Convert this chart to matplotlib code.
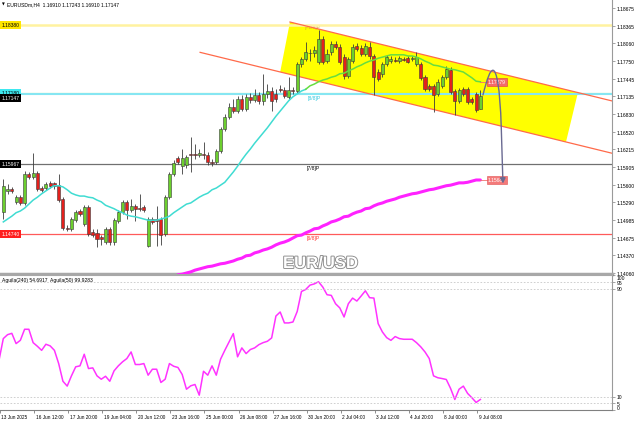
import numpy as np
import matplotlib
matplotlib.use("Agg")
import matplotlib.pyplot as plt
import matplotlib.transforms as mtransforms
import matplotlib.patheffects as pe
from matplotlib.path import Path
from matplotlib.patches import FancyArrowPatch, Polygon

plt.rcParams['font.family'] = ['Liberation Sans', 'DejaVu Sans']

# EURUSDm H4, velas (13 Jun - 9 Jul 2025)
open_ = [1.1512, 1.1549, 1.1552, 1.1530, 1.1538, 1.1528, 1.1578, 1.1573, 1.1580, 1.1554,
         1.1554, 1.1563, 1.1563, 1.1559, 1.1535, 1.1484, 1.1483, 1.1498, 1.1514, 1.1491,
         1.1521, 1.1477, 1.1476, 1.1469, 1.1460, 1.1483, 1.1460, 1.1497, 1.1512, 1.1530,
         1.1516, 1.1523, 1.1519, 1.1521, 1.1453, 1.1500, 1.1500, 1.1500, 1.1474, 1.1538,
         1.1578, 1.1606, 1.1592, 1.1594, 1.1613, 1.1613, 1.1611, 1.1613, 1.1611, 1.1599,
         1.1599, 1.1618, 1.1657, 1.1678, 1.1695, 1.1688, 1.1709, 1.1692, 1.1713, 1.1707,
         1.1716, 1.1706, 1.1718, 1.1723, 1.1718, 1.1726, 1.1725, 1.1713, 1.1725, 1.1723,
         1.1770, 1.1779, 1.1789, 1.1789, 1.1773, 1.1814, 1.1775, 1.1791, 1.1805, 1.1800,
         1.1782, 1.1749, 1.1775, 1.1801, 1.1798, 1.1787, 1.1800, 1.1784, 1.1756, 1.1753,
         1.1770, 1.1775, 1.1777, 1.1775, 1.1779, 1.1780, 1.1779, 1.1770, 1.1770, 1.1747,
         1.1732, 1.1732, 1.1718, 1.1732, 1.1747, 1.1760, 1.1723, 1.1706, 1.1726, 1.1726,
         1.1709, 1.1718, 1.16910]
high = [1.1570, 1.1561, 1.1556, 1.1542, 1.1542, 1.1584, 1.1582, 1.1615, 1.1584, 1.1558,
        1.1564, 1.1566, 1.1564, 1.1578, 1.1538, 1.1490, 1.1504, 1.1516, 1.1518, 1.1524,
        1.1524, 1.1483, 1.1483, 1.1472, 1.1486, 1.1486, 1.1502, 1.1516, 1.1533, 1.1533,
        1.1535, 1.1526, 1.1544, 1.1524, 1.1504, 1.1504, 1.1523, 1.1504, 1.1542, 1.1582,
        1.1603, 1.1610, 1.1622, 1.1611, 1.1643, 1.1631, 1.1622, 1.1634, 1.1617, 1.1605,
        1.1622, 1.1660, 1.1683, 1.1702, 1.1709, 1.1714, 1.1716, 1.1718, 1.1720, 1.1726,
        1.1721, 1.1753, 1.1735, 1.1730, 1.1726, 1.1733, 1.1730, 1.1747, 1.1730, 1.1773,
        1.1782, 1.1808, 1.1796, 1.1801, 1.1829, 1.1819, 1.1796, 1.1810, 1.1810, 1.1805,
        1.1787, 1.1782, 1.1805, 1.1807, 1.1803, 1.1807, 1.1808, 1.1787, 1.1761, 1.1773,
        1.1786, 1.1784, 1.1782, 1.1784, 1.1782, 1.1784, 1.1784, 1.1791, 1.1773, 1.1751,
        1.1735, 1.1735, 1.1744, 1.1751, 1.1767, 1.1765, 1.1726, 1.1728, 1.1730, 1.1730,
        1.1713, 1.1721, 1.17243]
low = [1.1500, 1.1544, 1.1545, 1.1526, 1.1524, 1.1524, 1.1570, 1.1570, 1.1549, 1.1547,
       1.1551, 1.1554, 1.1552, 1.1530, 1.1481, 1.1479, 1.1479, 1.1495, 1.1505, 1.1488,
       1.1471, 1.1469, 1.1451, 1.1455, 1.1457, 1.1455, 1.1455, 1.1493, 1.1509, 1.1500,
       1.1512, 1.1497, 1.1514, 1.1512, 1.1451, 1.1491, 1.1453, 1.1455, 1.1471, 1.1535,
       1.1575, 1.1596, 1.1578, 1.1589, 1.1582, 1.1605, 1.1608, 1.1605, 1.1594, 1.1592,
       1.1596, 1.1615, 1.1653, 1.1674, 1.1685, 1.1685, 1.1688, 1.1688, 1.1702, 1.1704,
       1.1700, 1.1699, 1.1711, 1.1688, 1.1704, 1.1721, 1.1711, 1.1709, 1.1718, 1.1720,
       1.1765, 1.1775, 1.1775, 1.1782, 1.1770, 1.1770, 1.1772, 1.1786, 1.1796, 1.1770,
       1.1744, 1.1746, 1.1772, 1.1793, 1.1784, 1.1784, 1.1779, 1.1716, 1.1740, 1.1747,
       1.1767, 1.1772, 1.1773, 1.1772, 1.1775, 1.1772, 1.1775, 1.1767, 1.1742, 1.1723,
       1.1723, 1.1686, 1.1714, 1.1728, 1.1744, 1.1718, 1.1681, 1.1702, 1.1714, 1.1700,
       1.1700, 1.1686, 1.16910]
close = [1.1558, 1.1552, 1.1549, 1.1538, 1.1528, 1.1578, 1.1573, 1.1580, 1.1552, 1.1551,
         1.1561, 1.1558, 1.1558, 1.1533, 1.1484, 1.1483, 1.1500, 1.1512, 1.1509, 1.1521,
         1.1474, 1.1472, 1.1465, 1.1465, 1.1483, 1.1460, 1.1498, 1.1512, 1.1530, 1.1516,
         1.1523, 1.1518, 1.1518, 1.1516, 1.1500, 1.1495, 1.1497, 1.1472, 1.1538, 1.1578,
         1.1598, 1.1599, 1.1606, 1.1608, 1.1611, 1.1611, 1.1615, 1.1611, 1.1599, 1.1598,
         1.1618, 1.1657, 1.1678, 1.1695, 1.1688, 1.1709, 1.1692, 1.1713, 1.1707, 1.1716,
         1.1706, 1.1718, 1.1723, 1.1706, 1.1709, 1.1725, 1.1714, 1.1725, 1.1723, 1.1770,
         1.1779, 1.1791, 1.1790, 1.1794, 1.1814, 1.1773, 1.1787, 1.1805, 1.1800, 1.1773,
         1.1749, 1.1779, 1.1800, 1.1796, 1.1787, 1.1801, 1.1784, 1.1747, 1.1744, 1.1770,
         1.1782, 1.1779, 1.1775, 1.1780, 1.1777, 1.1773, 1.1780, 1.1782, 1.1746, 1.1726,
         1.1726, 1.1716, 1.1739, 1.1747, 1.1761, 1.1721, 1.1706, 1.1725, 1.1718, 1.1704,
         1.1704, 1.1690, 1.17147]

# media movil rapida (turquesa -> verde)
ma_fast = [1.1495, 1.1500, 1.1505, 1.1511, 1.1514, 1.1519, 1.1526, 1.1533, 1.1538, 1.1544,
           1.1549, 1.1554, 1.1558, 1.1558, 1.1556, 1.1551, 1.1545, 1.1542, 1.1540, 1.1540,
           1.1538, 1.1537, 1.1533, 1.1530, 1.1524, 1.1521, 1.1518, 1.1514, 1.1511, 1.1507,
           1.1505, 1.1504, 1.1502, 1.1500, 1.1498, 1.1498, 1.1498, 1.1500, 1.1502, 1.1505,
           1.1511, 1.1516, 1.1521, 1.1526, 1.1528, 1.1533, 1.1538, 1.1542, 1.1545, 1.1551,
           1.1554, 1.1559, 1.1564, 1.1573, 1.1582, 1.1592, 1.1603, 1.1613, 1.1622, 1.1632,
           1.1641, 1.1650, 1.1659, 1.1669, 1.1679, 1.1688, 1.1697, 1.1706, 1.1713, 1.1718,
           1.1723, 1.1726, 1.1732, 1.1735, 1.1739, 1.1742, 1.1744, 1.1747, 1.1749, 1.1753,
           1.1754, 1.1758, 1.1761, 1.1765, 1.1768, 1.1772, 1.1775, 1.1777, 1.1780, 1.1782,
           1.1784, 1.1786, 1.1786, 1.1786, 1.1786, 1.1784, 1.1784, 1.1782, 1.1779, 1.1775,
           1.1772, 1.1768, 1.1767, 1.1765, 1.1763, 1.1761, 1.1760, 1.1758, 1.1756, 1.1751,
           1.1746, 1.1740, 1.1739]
ma_fast_split = 71

# media movil lenta (magenta), empieza en la vela 41
ma_slow_start = 41
ma_slow = [1.1403, 1.1404, 1.1406, 1.1408, 1.1411, 1.1413, 1.1415, 1.1417, 1.1418, 1.1420,
           1.1422, 1.1423, 1.1425, 1.1427, 1.1430, 1.1432, 1.1436, 1.1437, 1.1441, 1.1443,
           1.1446, 1.1448, 1.1451, 1.1455, 1.1458, 1.1460, 1.1463, 1.1467, 1.1471, 1.1472,
           1.1476, 1.1479, 1.1483, 1.1484, 1.1488, 1.1491, 1.1495, 1.1497, 1.1500, 1.1504,
           1.1505, 1.1509, 1.1512, 1.1514, 1.1518, 1.1519, 1.1523, 1.1526, 1.1528, 1.1531,
           1.1533, 1.1535, 1.1538, 1.1540, 1.1542, 1.1544, 1.1545, 1.1547, 1.1549, 1.1551,
           1.1552, 1.1554, 1.1556, 1.1558, 1.1559, 1.1561, 1.1563, 1.1563, 1.1564, 1.1566,
           1.1568, 1.1568]

# oscilador Aguila (desde la vela -1)
aguila = [37.0, 52.9, 55.8, 56.8, 49.2, 51.6, 59.8, 59.8, 49.9, 47.2, 44.2,
          48.7, 47.5, 44.2, 34.4, 21.3, 17.7, 25.3, 32.0, 32.7, 41.3,
          30.7, 31.2, 25.3, 22.8, 25.0, 21.3, 29.0, 32.7, 35.7, 38.1,
          43.0, 33.7, 33.7, 34.4, 25.8, 30.2, 30.2, 20.4, 22.8, 34.4,
          32.4, 31.5, 26.3, 15.4, 17.9, 18.9, 11.0, 28.7, 25.8, 32.7,
          25.8, 37.6, 44.2, 50.4, 56.6, 39.4, 46.0, 41.8, 44.8, 46.0,
          48.4, 49.9, 50.9, 53.4, 69.6, 72.6, 64.5, 64.5, 65.2, 73.0,
          87.8, 89.3, 92.5, 93.4, 95.0, 91.1, 85.4, 84.9, 78.7, 75.6,
          68.9, 78.7, 82.9, 80.7, 84.4, 88.3, 83.2, 82.9, 64.0, 57.8,
          53.6, 51.6, 54.4, 52.9, 52.4, 52.4, 52.4, 49.9, 46.8, 43.0,
          38.1, 25.3, 23.9, 23.3, 22.6, 16.0, 7.8, 15.4, 17.7, 12.3,
          9.1, 5.6, 7.8]
osc_levels = [95, 90, 10, 5]
osc_ticks = [100, 95, 90, 10, 5, 0]

time_labels = ['13 Jun 2025', '16 Jun 12:00', '17 Jun 20:00', '19 Jun 04:00', '20 Jun 12:00',
               '23 Jun 16:00', '25 Jun 00:00', '26 Jun 08:00', '27 Jun 16:00', '30 Jun 20:00',
               '2 Jul 04:00', '3 Jul 12:00', '4 Jul 20:00', '8 Jul 00:00', '9 Jul 08:00']
price_ticks = [1.18675, 1.18365, 1.18060, 1.17750, 1.17445, 1.17135, 1.16830, 1.16520,
               1.16215, 1.15905, 1.15600, 1.15290, 1.14985, 1.14675, 1.14370, 1.14060]

# niveles Murrey
lvl_plus18 = 1.18380
lvl_88 = 1.17180
lvl_78 = 1.15967
lvl_68 = 1.14740
bid = 1.17147

# canal bajista (vela, precio)
chan_upper = [(67.3, 1.18431), (142.9, 1.17057)]
chan_lower = [(46.2, 1.17903), (142.9, 1.16146)]
chan_fill = [(67.3, 1.18431), (134.9, 1.17203), (132.1, 1.16342), (65.0, 1.17561)]

W, H = 640, 427
fig = plt.figure(figsize=(6.4, 4.27), dpi=100)
ax = fig.add_axes([0, 1 - 275 / H, 612 / W, 275 / H])
ax2 = fig.add_axes([0, 1 - 411 / H, 612 / W, 135 / H])
xlim = (-0.775, 142.9)
fs = 3.6

# ---- panel principal ----
ax.add_patch(Polygon(chan_fill, closed=True, fc='#ffff00', ec='none', zorder=1))
ax.plot(*zip(*chan_upper), color='#ff6a4a', lw=0.9, zorder=2)
ax.plot(*zip(*chan_lower), color='#ff6a4a', lw=0.9, zorder=2)

ax.axhline(lvl_plus18, color='#fff2a0', lw=1.8, zorder=1.5)
ax.axhline(lvl_88 + 0.00015, color='#8ee05a', lw=0.8, zorder=1.5)
ax.axhline(lvl_88 - 0.0001, color='#86e6f2', lw=1.5, zorder=1.5)
ax.axhline(lvl_78, color='#707070', lw=0.9, zorder=1.5)
ax.axhline(lvl_68, color='#ff5a5a', lw=0.9, zorder=1.5)

ax.text(70.8, lvl_plus18 - 0.0003, '[+1/8]P', fontsize=fs, color='#d8b030', va='center', zorder=1.2)
ax.text(71.5, lvl_88 - 0.0006, '[8/8]P', fontsize=fs, color='#30c8e0', va='center', zorder=2)
ax.text(71.3, lvl_78 - 0.0007, '[7/8]P', fontsize=fs, color='black', va='center', zorder=2)
ax.text(71.3, lvl_68 - 0.0007, '[6/8]P', fontsize=fs, color='#ff3030', va='center', zorder=2)

o = np.array(open_)
h = np.array(high)
l = np.array(low)
c = np.array(close)
x = np.arange(len(c))
up = c >= o
ax.vlines(x, l, h, color='#3c3c3c', lw=0.6, zorder=3)
bottom = np.minimum(o, c)
height = np.maximum(np.abs(c - o), 0.00005)
ax.bar(x[up], height[up], bottom=bottom[up], width=0.72, color='#6ccf2e',
       edgecolor='#3a3a3a', linewidth=0.4, zorder=4)
ax.bar(x[~up], height[~up], bottom=bottom[~up], width=0.72, color='#e4201c',
       edgecolor='#3a3a3a', linewidth=0.4, zorder=4)

ma_fast = np.array(ma_fast)
ax.plot(x[:ma_fast_split + 1], ma_fast[:ma_fast_split + 1], color='#40dcd2', lw=1.1, zorder=5)
ax.plot(x[ma_fast_split:], ma_fast[ma_fast_split:], color='#66dd40', lw=1.1, zorder=5)
xs = np.arange(ma_slow_start, ma_slow_start + len(ma_slow))
ax.plot(xs, ma_slow, color='#ff22ff', lw=2.2, zorder=5, solid_capstyle='round')

# etiquetas de las medias
ax.plot([x[-1], 113.8], [ma_fast[-1], ma_fast[-1]], color='#f07070', lw=0.6, zorder=5)
ax.text(113.8, ma_fast[-1], '1.17379', fontsize=fs, color='white', va='center', zorder=6,
        bbox=dict(boxstyle='square,pad=0.25', fc='#f46a6a', ec='#e03a3a', lw=0.4))
ax.plot([xs[-1], 113.8], [ma_slow[-1], ma_slow[-1]], color='#f07070', lw=0.6, zorder=5)
ax.text(113.8, ma_slow[-1], '1.15687', fontsize=fs, color='white', va='center', zorder=6,
        bbox=dict(boxstyle='square,pad=0.25', fc='#f47a7a', ec='#e05050', lw=0.4))

# proyeccion
verts = [(112.6, 1.1716), (113.6, 1.1745), (114.3, 1.1760), (115.0, 1.1759),
         (115.8, 1.1758), (116.6, 1.1730), (116.9, 1.1660), (117.3, 1.1562)]
codes = [Path.MOVETO, Path.CURVE4, Path.CURVE4, Path.CURVE4,
         Path.CURVE4, Path.CURVE4, Path.CURVE4, Path.LINETO]
arrow = FancyArrowPatch(path=Path(verts, codes), arrowstyle='-|>,head_length=3,head_width=1.6',
                        color='#6a6a92', lw=1.0, zorder=7)
ax.add_patch(arrow)

ax.text(283 / 612, 6 / 275, 'EUR/USD', transform=ax.transAxes, fontsize=12, fontweight='bold',
        color='white', va='baseline', zorder=8,
        path_effects=[pe.withStroke(linewidth=1.3, foreground='#8a8a8a')])

ax.set_xlim(*xlim)
ax.set_ylim(1.14043, 1.18832)
ax.set_xticks([])
ax.yaxis.tick_right()
ax.set_yticks(price_ticks)
ax.set_yticklabels([f'{v:.5f}' for v in price_ticks])
ax.tick_params(axis='y', length=2, width=0.5, pad=1.5, labelsize=fs, color='#808080')
for s in ['top', 'left']:
    ax.spines[s].set_visible(False)
ax.spines['right'].set_color('#9a9a9a')
ax.spines['bottom'].set_color('#a8a8a8')
ax.spines['bottom'].set_linewidth(2.5)

trans = mtransforms.blended_transform_factory(ax.transAxes, ax.transData) + \
    mtransforms.ScaledTranslation(1.5 / 100, 0, fig.dpi_scale_trans)
boxes = [(lvl_plus18, '1.18380', '#ffe600', 'black'),
         (1.17200, '1.17180', '#3ee8f0', 'black'),
         (1.17110, '1.17147', 'black', 'white'),
         (lvl_78, '1.15967', 'black', 'white'),
         (lvl_68, '1.14740', '#ff2020', 'white')]
for yv, txt, fc, tc in boxes:
    ax.text(0, yv, txt, transform=trans, fontsize=fs, color=tc, va='center', ha='left',
            clip_on=False, zorder=10, bbox=dict(boxstyle='square,pad=0.3', fc=fc, ec='none'))

fig.text(2 / W, 1 - 5 / H, '\u25bc', fontsize=2.6, family='DejaVu Sans', va='center')
fig.text(7 / W, 1 - 5 / H, 'EURUSDm,H4  1.16910 1.17243 1.16910 1.17147', fontsize=fs, va='center')

# ---- oscilador ----
xo = np.arange(-1, len(aguila) - 1)
ax2.plot(xo, aguila, color='#ff33ff', lw=1.1)
for v in osc_levels:
    ax2.axhline(v, color='#c8c8c8', lw=0.6, ls=(0, (2, 2)))
ax2.text(2 / 612, 1 - 5 / 135, 'Aguila(240) 54.6917  Aguila(50) 99.9283', transform=ax2.transAxes,
         fontsize=fs, va='center')
ax2.set_xlim(*xlim)
ax2.set_ylim(0, 100)
ax2.yaxis.tick_right()
ax2.set_yticks(osc_ticks)
ax2.set_yticklabels([str(v) for v in osc_ticks])
ax2.tick_params(axis='y', length=2, width=0.5, pad=1.5, labelsize=fs, color='#808080')
lbls = ax2.get_yticklabels()
lbls[0].set_va('top')
lbls[-1].set_va('bottom')

tick_pos = np.arange(len(time_labels)) * 8 - 0.775
ax2.set_xticks(tick_pos)
ax2.set_xticklabels(time_labels, ha='left')
ax2.tick_params(axis='x', length=2, width=0.5, pad=1, labelsize=3.4, color='#606060')
for i, lbl in enumerate(ax2.get_xticklabels()):
    dx = 1.0 if i == 0 else 1.5
    lbl.set_transform(lbl.get_transform() + mtransforms.ScaledTranslation(dx / 100, 0, fig.dpi_scale_trans))
ax2.spines['left'].set_visible(False)
ax2.spines['top'].set_color('#a8a8a8')
ax2.spines['right'].set_color('#9a9a9a')
ax2.spines['bottom'].set_color('#808080')

fig.savefig('out.png', dpi=100)
